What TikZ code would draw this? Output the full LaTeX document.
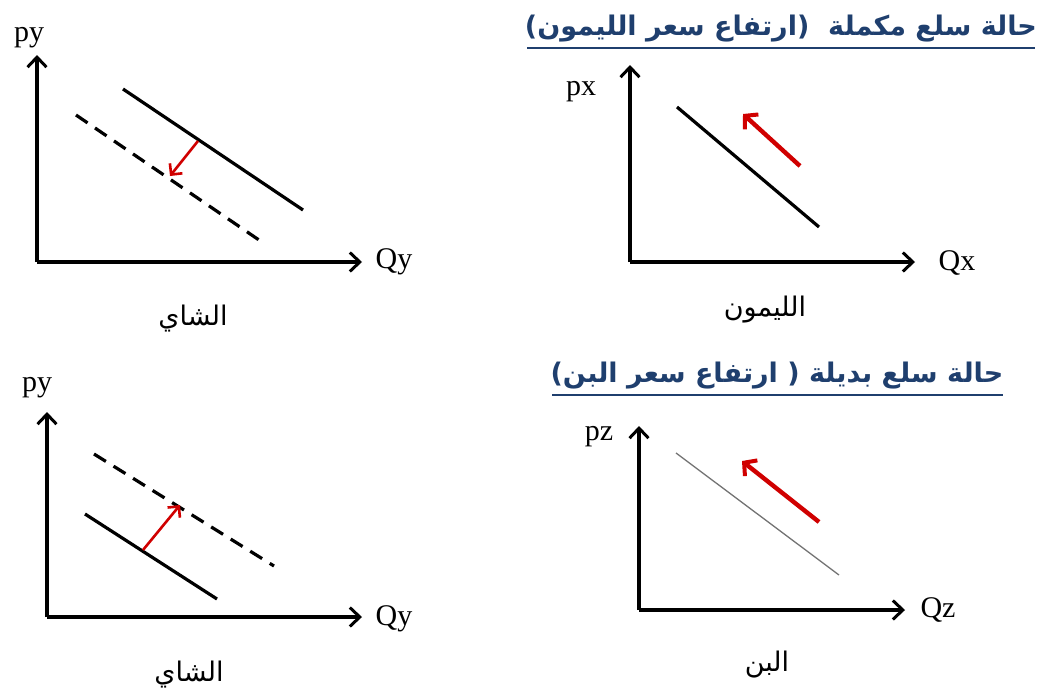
\documentclass[tikz,border=0pt]{standalone}
\usepackage{fontspec}
\setmainfont{Liberation Serif}
\newfontfamily\arabicfont[Script=Arabic]{DejaVu Sans}
\TeXXeTstate=1
\usetikzlibrary{arrows.meta}
\definecolor{titleblue}{HTML}{1F3F6E}
\definecolor{arrred}{HTML}{D00000}
\begin{document}
\begin{tikzpicture}[x=1pt,y=-1pt,
  axis/.style={line width=3.4pt,-{Straight Barb[length=10pt,width=19pt,line width=3pt]}},
  demand/.style={line width=3.2pt,line cap=butt},
  shifted/.style={line width=3.2pt,dash pattern=on 14pt off 9pt},
  thinline/.style={line width=1.3pt,black!55},
  redthin/.style={arrred,line width=2.6pt,-{Straight Barb[length=8pt,width=16pt,line width=2.6pt]}},
  redthick/.style={arrred,line width=4.4pt,-{Straight Barb[length=9pt,width=20pt,line width=4pt]}},
  axlabel/.style={inner sep=0pt,font=\fontsize{30}{34}\selectfont},
  arlabel/.style={inner sep=0pt,font=\arabicfont\fontsize{27}{32}\selectfont},
  title/.style={inner sep=0pt,text=titleblue,font=\arabicfont\bfseries\fontsize{27}{32}\selectfont},
  uline/.style={titleblue,line width=2pt}
]
\useasboundingbox (0,0) rectangle (1040,688);

% ---------- Panel 1: top-left (tea, complementary) ----------
\coordinate (o1) at (37,262);
\coordinate (y1) at (37,55);
\coordinate (x1) at (362,262);
\draw[axis] (o1) -- (y1);
\draw[axis] (o1) -- (x1);
\node[axlabel] (py1) at (29,38) {py};
\node[axlabel] (qy1) at (394,262) {Qy};
\coordinate (d1a) at (123,89);
\coordinate (d1b) at (303,210);
\draw[demand] (d1a) -- (d1b);
\coordinate (s1a) at (76,115);
\coordinate (s1b) at (259,240);
\draw[shifted] (s1a) -- (s1b);
\coordinate (r1a) at (198,141);
\coordinate (r1b) at (170,176);
\draw[redthin] (r1a) -- (r1b);
\node[arlabel] (lab1) at (193,319) {\beginR الشاي\endR};

% ---------- Panel 2: bottom-left (tea, substitute) ----------
\coordinate (o2) at (47,617);
\coordinate (y2) at (47,412);
\coordinate (x2) at (362,617);
\draw[axis] (o2) -- (y2);
\draw[axis] (o2) -- (x2);
\node[axlabel] (py2) at (37,388) {py};
\node[axlabel] (qy2) at (394,619) {Qy};
\coordinate (d2a) at (85,514);
\coordinate (d2b) at (217,599);
\draw[demand] (d2a) -- (d2b);
\coordinate (s2a) at (94,454);
\coordinate (s2b) at (274,566);
\draw[shifted] (s2a) -- (s2b);
\coordinate (r2a) at (143,550);
\coordinate (r2b) at (180,505);
\draw[redthin] (r2a) -- (r2b);
\node[arlabel] (lab2) at (189,675) {\beginR الشاي\endR};

% ---------- Panel 3: top-right (lemon) ----------
\node[title] (t1) at (781,29) {\beginR حالة سلع مكملة\ \ (ارتفاع سعر الليمون)\endR};
\draw[uline] (527,48) -- (1035,48);
\coordinate (o3) at (630,262);
\coordinate (y3) at (630,65);
\coordinate (x3) at (915,262);
\draw[axis] (o3) -- (y3);
\draw[axis] (o3) -- (x3);
\node[axlabel] (px3) at (581,92) {px};
\node[axlabel] (qx3) at (957,263) {Qx};
\coordinate (d3a) at (677,107);
\coordinate (d3b) at (819,227);
\draw[demand] (d3a) -- (d3b);
\coordinate (r3a) at (800,166);
\coordinate (r3b) at (743,114);
\draw[redthick] (r3a) -- (r3b);
\node[arlabel] (lab3) at (765,310) {\beginR الليمون\endR};

% ---------- Panel 4: bottom-right (coffee) ----------
\node[title] (t2) at (777,376) {\beginR حالة سلع بديلة ( ارتفاع سعر البن)\endR};
\draw[uline] (552,395) -- (1003,395);
\coordinate (o4) at (639,610);
\coordinate (y4) at (639,426);
\coordinate (x4) at (905,610);
\draw[axis] (o4) -- (y4);
\draw[axis] (o4) -- (x4);
\node[axlabel] (pz4) at (599,437) {pz};
\node[axlabel] (qz4) at (938,610) {Qz};
\coordinate (d4a) at (676,453);
\coordinate (d4b) at (839,575);
\draw[thinline] (d4a) -- (d4b);
\coordinate (r4a) at (819,522);
\coordinate (r4b) at (742,461);
\draw[redthick] (r4a) -- (r4b);
\node[arlabel] (lab4) at (767,665) {\beginR البن\endR};
\end{tikzpicture}
\end{document}
